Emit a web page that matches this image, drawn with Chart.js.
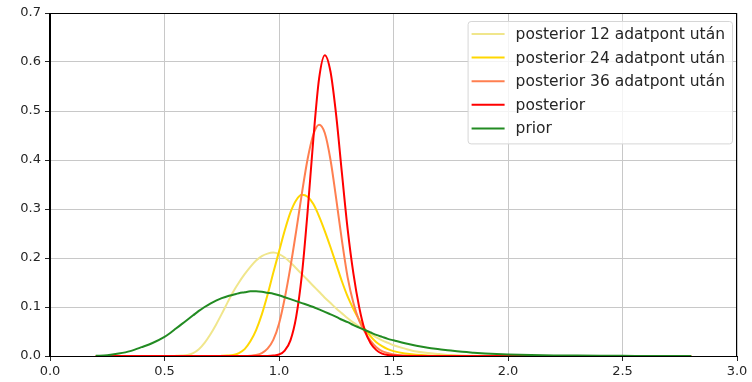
<!DOCTYPE html>
<html>
<head>
<meta charset="utf-8">
<script src="https://cdn.jsdelivr.net/npm/chart.js@4.4.1/dist/chart.umd.min.js"></script>
<style>
html, body { margin: 0; padding: 0; background: #fff; }
#wrap { width: 752px; height: 382px; }
</style>
</head>
<body>
<div id="wrap"><canvas id="chart" width="752" height="382"></canvas></div>
<script>
// x grid of the curves (finer between 0.5 and 1.5)
var xs = [0.2, 0.25, 0.3, 0.35, 0.4, 0.45,
  0.5, 0.525, 0.55, 0.575, 0.6, 0.625, 0.65, 0.675, 0.7, 0.725, 0.75, 0.775,
  0.8, 0.825, 0.85, 0.875, 0.9, 0.925, 0.95, 0.975, 1.0, 1.025, 1.05, 1.075,
  1.1, 1.125, 1.15, 1.175, 1.2, 1.225, 1.25, 1.275, 1.3, 1.325, 1.35, 1.375,
  1.4, 1.425, 1.45, 1.475,
  1.5, 1.55, 1.6, 1.65, 1.7, 1.75, 1.8, 1.85, 1.9, 1.95,
  2.0, 2.1, 2.2, 2.3, 2.4, 2.5, 2.6, 2.7, 2.8];

var post12 = [0, 0, 0, 0, 0, 0,
  0, 0, 0.0003, 0.0008, 0.002, 0.006, 0.014, 0.027, 0.044, 0.064, 0.086, 0.109,
  0.131, 0.150, 0.167, 0.182, 0.195, 0.204, 0.209, 0.211, 0.208, 0.201, 0.191, 0.179,
  0.167, 0.155, 0.143, 0.131, 0.119, 0.108, 0.097, 0.087, 0.077, 0.068, 0.060, 0.052,
  0.045, 0.038, 0.032, 0.027,
  0.022, 0.015, 0.009, 0.006, 0.004, 0.002, 0.001, 0.0006, 0.0003, 0.0002,
  0.0001, 0, 0, 0, 0, 0, 0, 0, 0];

var post24 = [0, 0, 0, 0, 0, 0,
  0, 0, 0, 0, 0, 0, 0, 0, 0, 0, 0.0003, 0.0008,
  0.002, 0.006, 0.014, 0.030, 0.053, 0.085, 0.125, 0.170, 0.213, 0.256, 0.293, 0.318,
  0.329, 0.325, 0.310, 0.285, 0.255, 0.222, 0.187, 0.152, 0.121, 0.096, 0.074, 0.055,
  0.040, 0.028, 0.020, 0.014,
  0.010, 0.005, 0.0025, 0.0012, 0.0006, 0.0003, 0.0001, 0, 0, 0,
  0, 0, 0, 0, 0, 0, 0, 0, 0];

var post36 = [0, 0, 0, 0, 0, 0,
  0, 0, 0, 0, 0, 0, 0, 0, 0, 0, 0, 0,
  0, 0, 0, 0.0005, 0.002, 0.006, 0.015, 0.033, 0.066, 0.118, 0.182, 0.255,
  0.332, 0.402, 0.452, 0.472, 0.455, 0.400, 0.320, 0.235, 0.160, 0.108, 0.072, 0.049,
  0.031, 0.018, 0.010, 0.006,
  0.003, 0.001, 0.0003, 0, 0, 0, 0, 0, 0, 0,
  0, 0, 0, 0, 0, 0, 0, 0, 0];

var posterior = [0, 0, 0, 0, 0, 0,
  0, 0, 0, 0, 0, 0, 0, 0, 0, 0, 0, 0,
  0, 0, 0, 0, 0, 0, 0.0002, 0.001, 0.003, 0.011, 0.032, 0.080,
  0.166, 0.295, 0.443, 0.566, 0.614, 0.580, 0.490, 0.372, 0.258, 0.168, 0.100, 0.052,
  0.026, 0.012, 0.005, 0.002,
  0.001, 0.0002, 0, 0, 0, 0, 0, 0, 0, 0,
  0, 0, 0, 0, 0, 0, 0, 0, 0];

var prior = [0.0003, 0.0015, 0.005, 0.010, 0.018, 0.027,
  0.039, 0.047, 0.056, 0.065, 0.074, 0.083, 0.092, 0.100, 0.107, 0.113, 0.118, 0.122,
  0.125, 0.128, 0.130, 0.132, 0.132, 0.131, 0.129, 0.127, 0.124, 0.120, 0.116, 0.112,
  0.108, 0.104, 0.100, 0.095, 0.090, 0.085, 0.080, 0.074, 0.069, 0.063, 0.058, 0.053,
  0.048, 0.043, 0.039, 0.035,
  0.032, 0.026, 0.021, 0.017, 0.014, 0.011, 0.0085, 0.0067, 0.0052, 0.0041,
  0.0032, 0.002, 0.0012, 0.0008, 0.0005, 0.0003, 0.0002, 0.0001, 0.0001];

var labels = ["posterior 12 adatpont után", "posterior 24 adatpont után",
  "posterior 36 adatpont után", "posterior", "prior"];
var colors = ["#f0e68c", "#ffd700", "#ff7f50", "#ff0000", "#228b22"];
var series = [post12, post24, post36, posterior, prior];

var xTicks = [0, 0.5, 1.0, 1.5, 2.0, 2.5, 3.0];

function toPoints(ys) {
  return xs.map(function(x, i) { return { x: x, y: ys[i] }; });
}

// frame round the plot area (like matplotlib spines)
var framePlugin = {
  id: 'frame',
  afterDatasetsDraw: function(chart) {
    var a = chart.chartArea, ctx = chart.ctx;
    ctx.save();
    ctx.strokeStyle = '#000';
    ctx.lineWidth = 1;
    ctx.strokeRect(Math.round(a.left) - 0.5, Math.round(a.top) + 0.5,
      Math.round(a.right - a.left), Math.round(a.bottom - a.top));
    ctx.restore();
  }
};

// legend box inside the plot, top right
var boxLegend = {
  id: 'boxLegend',
  afterDraw: function(chart) {
    var ctx = chart.ctx, a = chart.chartArea;
    var ds = chart.data.datasets;
    ctx.save();
    ctx.font = '15.5px "DejaVu Sans"';
    var tw = 0;
    ds.forEach(function(d) { tw = Math.max(tw, ctx.measureText(d.label).width); });
    var rowH = 23.6;
    var bw = 48 + tw + 7, bh = 13 + rowH * (ds.length - 1) + 15;
    var x0 = a.right - 5 - bw, y0 = a.top + 8;
    ctx.beginPath();
    ctx.roundRect(x0 + 0.5, y0 + 0.5, bw, bh, 3);
    ctx.fillStyle = 'rgba(255,255,255,0.8)';
    ctx.fill();
    ctx.strokeStyle = '#d6d6d6';
    ctx.lineWidth = 1;
    ctx.stroke();
    ds.forEach(function(d, i) {
      var y = y0 + 13 + i * rowH;
      ctx.beginPath();
      ctx.moveTo(x0 + 4, y);
      ctx.lineTo(x0 + 37, y);
      ctx.strokeStyle = d.borderColor;
      ctx.lineWidth = 2;
      ctx.stroke();
      ctx.fillStyle = '#262626';
      ctx.textBaseline = 'middle';
      ctx.fillText(d.label, x0 + 48, y + 1);
    });
    ctx.restore();
  }
};

Chart.defaults.font.family = '"DejaVu Sans", sans-serif';
Chart.defaults.font.size = 13;
Chart.defaults.color = '#262626';

var datasets = series.map(function(ys, i) {
  return {
    label: labels[i],
    data: toPoints(ys),
    borderColor: colors[i],
    backgroundColor: colors[i],
    borderWidth: 2,
    pointRadius: 0,
    fill: false,
    cubicInterpolationMode: 'monotone',
    order: series.length - i
  };
});

var ctx = document.getElementById('chart');
var chart = new Chart(ctx, {
  type: 'line',
  data: { datasets: datasets },
  options: {
    responsive: false,
    animation: false,
    devicePixelRatio: 1,
    layout: { padding: { top: 13, right: 15, left: 0, bottom: 0 } },
    plugins: {
      legend: { display: false },
      tooltip: { enabled: false }
    },
    scales: {
      x: {
        type: 'linear',
        min: 0,
        max: 3,
        afterBuildTicks: function(s) { s.ticks = xTicks.map(function(v) { return { value: v }; }); },
        afterFit: function(s) { s.height = 26; },
        ticks: {
          padding: 3,
          maxRotation: 0,
          callback: function(v) { return Number(v).toFixed(1); }
        },
        grid: { color: '#c8c8c8', lineWidth: 1, tickLength: 5, tickColor: '#262626' },
        border: { color: '#000', width: 1 }
      },
      y: {
        min: 0,
        max: 0.7,
        afterFit: function(s) { s.width = 50; },
        ticks: {
          stepSize: 0.1,
          padding: 4,
          callback: function(v) { return Number(v).toFixed(1); }
        },
        grid: { color: '#c8c8c8', lineWidth: 1, tickLength: 5, tickColor: '#262626' },
        border: { color: '#000', width: 1 }
      }
    }
  },
  plugins: [framePlugin, boxLegend]
});
</script>
</body>
</html>
